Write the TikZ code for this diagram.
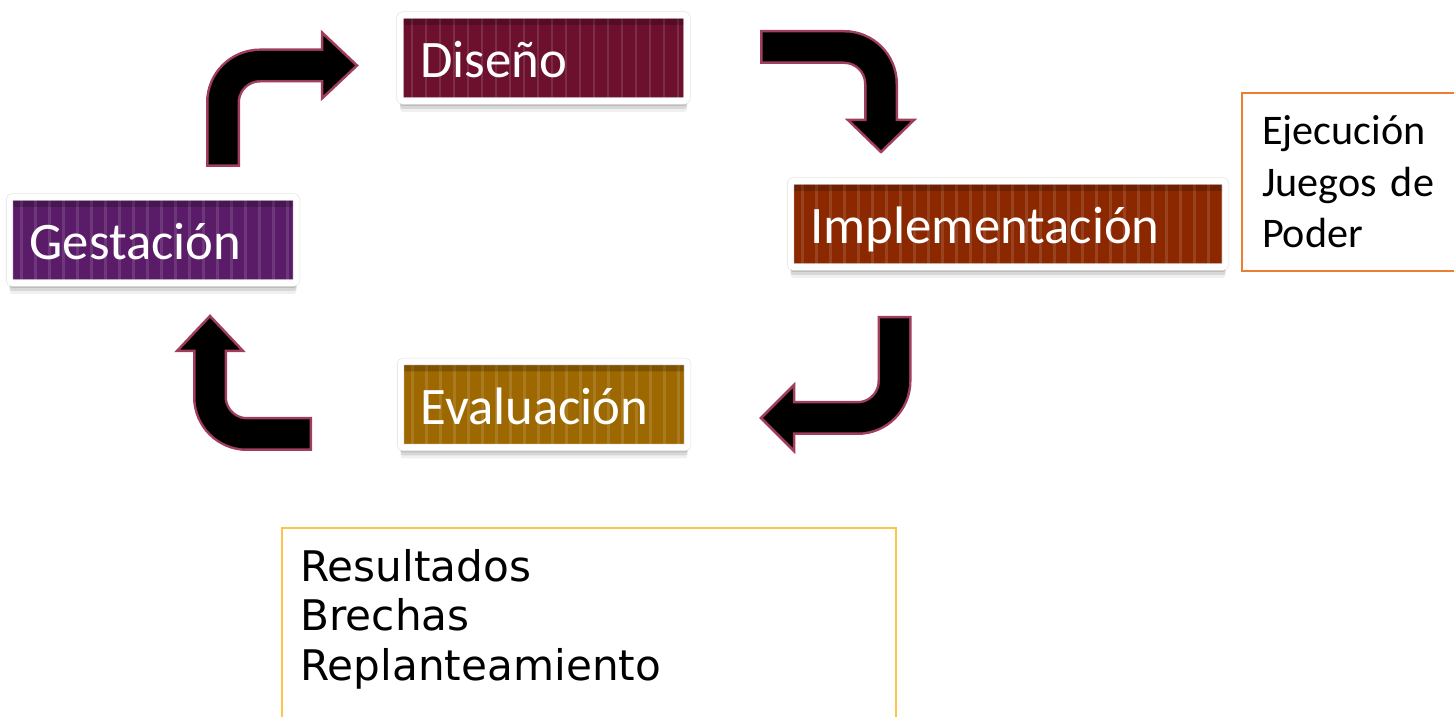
\documentclass[tikz,border=0pt]{standalone}
\usepackage{fontspec}
\newfontfamily\stagefont{Carlito}
\newfontfamily\notefont{DejaVu Sans}
\usetikzlibrary{calc,shadows}

\definecolor{disenocol}{RGB}{108,16,46}
\definecolor{gestcol}{RGB}{90,28,104}
\definecolor{implcol}{RGB}{139,40,0}
\definecolor{evalcol}{RGB}{158,104,0}
\definecolor{rimcol}{RGB}{160,62,92}
\definecolor{ejeccol}{RGB}{237,125,49}
\definecolor{rescol}{RGB}{252,196,72}

\tikzset{
  stage/.style={fill=#1, draw=black!12, double=white, double distance=0.06cm,
    line width=0.006cm, rounded corners=0.03cm,
    minimum height=0.86cm, text width=2.47cm, align=left,
    inner xsep=0.2cm, inner ysep=0.1cm, text height=0.46cm, text depth=0.06cm,
    text=white, font=\stagefont\fontsize{15}{18}\selectfont,
    drop shadow={shadow xshift=0cm, shadow yshift=-0.05cm, opacity=0.3},
    drop shadow={shadow xshift=0cm, shadow yshift=-0.08cm, opacity=0.22},
    drop shadow={shadow xshift=0cm, shadow yshift=-0.11cm, opacity=0.12},
    path picture={
      \foreach \k in {0,...,31}
        \draw[white, opacity=0.12, line width=0.025cm]
          ([xshift=0.12cm+\k*0.14cm]path picture bounding box.south west) -- ++(0,1);
      \fill[black, opacity=0.2] (path picture bounding box.north west)
        rectangle ([yshift=-0.1cm]path picture bounding box.north east);
    }},
  arrowrim/.style={draw=rimcol, line width=0.34cm, rounded corners=0.37cm},
  arrowcore/.style={draw=black, line width=0.29cm, rounded corners=0.37cm},
  arrowhead/.style={fill=black, draw=rimcol, line width=0.025cm, line join=miter},
  notebox/.style={draw=#1, line width=0.02cm, align=left, anchor=north west},
}

\newcommand{\bentarrow}[4]{%
  \draw[arrowrim] (#1) #2 (#3);
  \filldraw[arrowhead] ($(#3)!0.33cm!90:(#4)$) -- (#4) -- ($(#3)!0.33cm!-90:(#4)$) -- cycle;
  \draw[arrowcore, shorten <=0.025cm] (#1) #2 ($(#3)!0.05cm!(#4)$);
}

\begin{document}
\begin{tikzpicture}
\useasboundingbox (0,0) rectangle (14.54,-7.17);

\node[stage=disenocol] (diseno) at (5.435,-0.58) {Diseño};
\node[stage=gestcol] (gest) at (1.53,-2.40) {Gestación};
\node[stage=implcol, text width=3.95cm] (impl) at (10.08,-2.24) {Implementación};
\node[stage=evalcol] (eval) at (5.44,-4.045) {Evaluación};

\node[notebox=ejeccol, text width=2.0cm, inner xsep=0.2cm, minimum height=1.78cm,
  font=\stagefont\fontsize{12}{14.65}\selectfont] (ejec) at (12.41,-0.92)
  {Ejecución\\Juegos de\\Poder};
\node[notebox=rescol, text width=5.77cm, inner xsep=0.185cm, inner ysep=0.21cm,
  text depth=1.5cm, font=\notefont\fontsize{12}{14.1}\selectfont] (res) at (2.81,-5.27)
  {Resultados\\Brechas\\Replanteamiento};

\coordinate (gd-s) at (2.23,-1.67);
\coordinate (gd-b) at (3.22,-0.655);
\coordinate (gd-t) at (3.57,-0.655);
\coordinate (di-s) at (7.60,-0.47);
\coordinate (di-b) at (8.81,-1.20);
\coordinate (di-t) at (8.81,-1.52);
\coordinate (ie-s) at (8.945,-3.16);
\coordinate (ie-b) at (7.94,-4.18);
\coordinate (ie-t) at (7.61,-4.18);
\coordinate (eg-s) at (3.12,-4.34);
\coordinate (eg-b) at (2.10,-3.51);
\coordinate (eg-t) at (2.10,-3.16);

\bentarrow{gd-s}{|-}{gd-b}{gd-t}
\bentarrow{di-s}{-|}{di-b}{di-t}
\bentarrow{ie-s}{|-}{ie-b}{ie-t}
\bentarrow{eg-s}{-|}{eg-b}{eg-t}
\end{tikzpicture}
\end{document}
